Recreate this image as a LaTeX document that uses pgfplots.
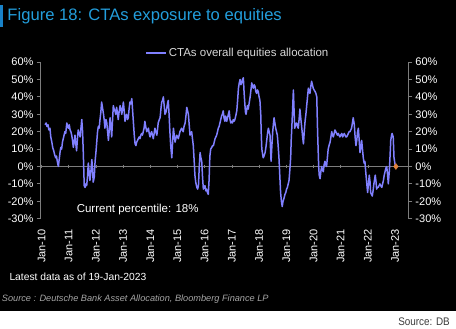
\documentclass[border=0pt]{standalone}
\usepackage{pgfplots}
\pgfplotsset{compat=1.18}
\usepackage{pgfplotstable}
\usepackage{fontspec}
\setmainfont{Liberation Sans}
\definecolor{titleblue}{RGB}{35,158,220}
\definecolor{barblue}{RGB}{25,130,200}
\definecolor{linec}{RGB}{128,128,255}
\definecolor{axgrey}{RGB}{125,125,125}
\definecolor{diam}{RGB}{225,130,60}
\definecolor{legtext}{RGB}{215,215,215}
\definecolor{srcgrey}{RGB}{165,165,165}
\definecolor{dbgrey}{RGB}{60,60,60}

\pgfplotstableread{
x y
2010.13 24
2010.17 25
2010.20 23
2010.24 24
2010.27 21
2010.31 22
2010.34 17
2010.38 14
2010.41 11
2010.45 9
2010.48 7
2010.52 5
2010.55 6
2010.58 3
2010.62 0
2010.65 4
2010.68 8
2010.71 11
2010.74 10
2010.77 14
2010.80 16
2010.83 18
2010.86 20
2010.89 19
2010.93 25
2010.96 23
2010.99 22
2011.02 24
2011.05 21
2011.08 20
2011.11 18
2011.14 15
2011.17 11
2011.20 14
2011.23 18
2011.26 13
2011.29 9
2011.32 16
2011.35 21
2011.38 19
2011.42 17
2011.45 22
2011.48 27
2011.51 20
2011.54 6
2011.57 -11
2011.60 -12
2011.63 -10
2011.66 -11
2011.69 -6
2011.72 2
2011.75 -3
2011.78 -8
2011.81 -4
2011.85 4
2011.88 -2
2011.90 -9
2011.94 -6
2011.97 3
2012.00 8
2012.03 14
2012.06 20
2012.09 23
2012.12 22
2012.15 27
2012.18 31
2012.21 37
2012.24 34
2012.28 30
2012.31 26
2012.33 22
2012.37 27
2012.40 25
2012.43 20
2012.46 15
2012.49 21
2012.52 28
2012.55 23
2012.58 17
2012.61 26
2012.64 35
2012.67 33
2012.70 32
2012.73 30
2012.76 34
2012.79 31
2012.82 27
2012.85 31
2012.89 35
2012.92 33
2012.95 30
2012.98 33
2013.01 37
2013.04 32
2013.07 26
2013.10 29
2013.13 30
2013.16 27
2013.19 28
2013.22 33
2013.25 37
2013.28 36
2013.32 39
2013.35 32
2013.38 25
2013.41 18
2013.44 13
2013.47 12
2013.50 14
2013.53 15
2013.56 16
2013.59 17
2013.62 16
2013.65 18
2013.68 19
2013.71 18
2013.74 20
2013.77 22
2013.80 26
2013.83 23
2013.87 20
2013.90 21
2013.93 22
2013.96 19
2013.99 17
2014.02 19
2014.05 20
2014.08 18
2014.11 16
2014.14 19
2014.17 22
2014.20 20
2014.24 18
2014.27 22
2014.29 25
2014.33 27
2014.36 28
2014.39 33
2014.42 37
2014.45 38
2014.48 40
2014.51 35
2014.54 30
2014.57 31
2014.60 33
2014.63 36
2014.66 38
2014.69 30
2014.72 20
2014.75 12
2014.79 5
2014.82 14
2014.85 22
2014.88 18
2014.91 14
2014.94 16
2014.97 18
2015.00 17
2015.03 16
2015.06 18
2015.09 20
2015.12 21
2015.15 22
2015.18 21
2015.21 20
2015.24 23
2015.28 25
2015.31 29
2015.34 34
2015.37 32
2015.40 30
2015.43 24
2015.46 18
2015.49 19
2015.52 20
2015.55 16
2015.58 12
2015.61 4
2015.64 -5
2015.67 -9
2015.71 -12
2015.74 -13
2015.77 -11
2015.80 0
2015.83 8
2015.86 5
2015.89 3
2015.92 -6
2015.95 -13
2015.98 -12
2016.01 -11
2016.04 -14
2016.07 -13
2016.10 -15
2016.13 -16
2016.16 -8
2016.19 6
2016.22 10
2016.26 11
2016.29 12
2016.32 12
2016.35 14
2016.38 16
2016.41 17
2016.44 18
2016.47 20
2016.50 22
2016.53 23
2016.56 25
2016.59 27
2016.62 29
2016.65 30
2016.68 32
2016.71 28
2016.74 26
2016.77 29
2016.81 26
2016.84 28
2016.87 30
2016.90 32
2016.93 27
2016.96 25
2016.99 26
2017.02 25
2017.05 27
2017.08 26
2017.11 27
2017.14 29
2017.18 32
2017.21 38
2017.24 45
2017.27 48
2017.30 50
2017.33 47
2017.36 48
2017.39 50
2017.42 51
2017.45 42
2017.48 35
2017.50 31
2017.52 30
2017.55 33
2017.57 35
2017.60 33
2017.63 36
2017.67 40
2017.70 44
2017.73 48
2017.76 46
2017.79 45
2017.82 47
2017.85 46
2017.88 43
2017.91 42
2017.94 44
2017.97 43
2018.00 40
2018.03 38
2018.06 30
2018.08 18
2018.10 10
2018.13 7
2018.15 5
2018.18 6
2018.22 8
2018.25 11
2018.28 15
2018.31 19
2018.34 22
2018.37 20
2018.40 18
2018.42 10
2018.44 3
2018.47 12
2018.50 20
2018.53 25
2018.55 28
2018.58 25
2018.61 22
2018.64 20
2018.67 18
2018.70 12
2018.73 5
2018.76 -5
2018.79 -15
2018.82 -20
2018.85 -23
2018.88 -20
2018.92 -18
2018.95 -16
2018.98 -15
2019.01 -13
2019.04 -12
2019.07 -10
2019.10 -8
2019.13 -2
2019.16 5
2019.18 15
2019.21 25
2019.24 36
2019.26 44
2019.29 30
2019.31 22
2019.34 24
2019.38 25
2019.41 23
2019.44 22
2019.47 27
2019.50 33
2019.53 28
2019.57 22
2019.60 17
2019.63 13
2019.66 20
2019.69 26
2019.72 30
2019.75 35
2019.78 40
2019.81 45
2019.84 43
2019.87 42
2019.90 46
2019.93 49
2019.96 47
2019.99 45
2020.02 44
2020.06 43
2020.09 42
2020.12 40
2020.15 20
2020.19 0
2020.21 -5
2020.24 -7
2020.27 -3
2020.30 0
2020.33 -2
2020.36 -3
2020.39 1
2020.42 3
2020.45 1
2020.48 0
2020.51 5
2020.54 10
2020.57 12
2020.61 14
2020.64 17
2020.67 20
2020.70 18
2020.73 17
2020.76 19
2020.79 21
2020.82 20
2020.85 19
2020.88 18
2020.91 19
2020.94 18
2020.97 17
2021.00 18
2021.04 19
2021.07 17
2021.10 18
2021.13 19
2021.16 18
2021.19 17
2021.22 17
2021.25 18
2021.28 19
2021.31 20
2021.34 20
2021.37 21
2021.40 22
2021.43 25
2021.46 28
2021.50 24
2021.53 17
2021.56 12
2021.59 15
2021.62 20
2021.65 22
2021.68 15
2021.71 8
2021.74 11
2021.77 15
2021.80 10
2021.83 5
2021.86 2
2021.89 3
2021.92 -3
2021.96 -10
2021.99 -15
2022.02 -10
2022.05 -5
2022.08 -9
2022.10 -15
2022.13 -16
2022.16 -17
2022.19 -14
2022.22 -10
2022.25 -7
2022.27 -5
2022.30 -9
2022.32 -13
2022.35 -12
2022.38 -12
2022.41 -11
2022.44 -10
2022.47 -11
2022.51 -12
2022.54 -10
2022.57 -8
2022.60 -5
2022.63 -3
2022.66 -1
2022.69 0
2022.72 -4
2022.75 -10
2022.77 -6
2022.79 -2
2022.82 8
2022.84 15
2022.87 18
2022.89 19
2022.91 18
2022.93 17
2022.96 5
2023.00 1
2023.03 0
}\cta

\begin{document}
\begin{tikzpicture}
\fill[white] (0pt,0pt) rectangle (456pt,329pt);
\fill[black] (0pt,18pt) rectangle (456pt,329pt);
\fill[barblue] (0pt,302pt) rectangle (3pt,324pt);
\node[anchor=west, inner sep=0pt, text=titleblue, font=\fontsize{16.6}{19}\selectfont] at (7.3pt,312.3pt) {Figure 18: CTAs exposure to equities};

\begin{axis}[
  at={(40.7pt,110.3pt)}, anchor=south west,
  scale only axis, width=367.6pt, height=156.6pt,
  xmin=2009.97, xmax=2023.485, ymin=-30, ymax=60,
  axis y line*=left, axis x line*=bottom,
  x axis line style={draw=none},
  y axis line style={draw=axgrey, line width=0.8pt},
  tick align=outside, major tick length=4pt,
  xtick={2010,2011,2012,2013,2014,2015,2016,2017,2018,2019,2020,2021,2022,2023},
  xticklabels={Jan-10,Jan-11,Jan-12,Jan-13,Jan-14,Jan-15,Jan-16,Jan-17,Jan-18,Jan-19,Jan-20,Jan-21,Jan-22,Jan-23},
  xtick style={draw=none},
  xticklabel style={yshift=-6.3pt, rotate=90, anchor=east, inner sep=0pt, text=white, font=\fontsize{11}{13}\selectfont},
  ytick={-30,-20,-10,0,10,20,30,40,50,60},
  yticklabels={-30\%,-20\%,-10\%,0\%,10\%,20\%,30\%,40\%,50\%,60\%},
  ytick style={draw=axgrey, line width=0.8pt},
  yticklabel style={inner sep=0pt, xshift=-3pt, text=white, font=\fontsize{11}{13}\selectfont},
  legend style={at={(0.284,1)}, anchor=west, yshift=9pt, draw=none, fill=none, inner sep=0pt,
     font=\fontsize{11.5}{13}\selectfont, text=legtext},
  legend image code/.code={\draw[#1, line width=1.5pt] (0pt,0pt) -- (20pt,0pt);},
  clip=false,
]
\addplot[forget plot, axgrey, line width=0.8pt] coordinates {(2009.97,0) (2023.485,0)};
\addplot[forget plot, only marks, mark=|, mark size=1.8pt, axgrey, mark options={line width=0.8pt}]
  coordinates {(2010,0) (2011,0) (2012,0) (2013,0) (2014,0) (2015,0) (2016,0) (2017,0) (2018,0) (2019,0) (2020,0) (2021,0) (2022,0) (2023,0)};
\addplot[linec, line width=1.5pt, line join=round] table[x=x,y=y] {\cta};
\addlegendentry{CTAs overall equities allocation}
\addplot[forget plot, only marks, mark=diamond*, mark size=3pt, color=diam] coordinates {(2023.03,0)};
\end{axis}

\begin{axis}[
  at={(40.7pt,110.3pt)}, anchor=south west,
  scale only axis, width=367.6pt, height=156.6pt,
  xmin=2009.97, xmax=2023.485, ymin=-30, ymax=60,
  axis y line*=right, axis x line=none,
  y axis line style={draw=axgrey, line width=0.8pt},
  tick align=outside, major tick length=4pt,
  ytick={-30,-20,-10,0,10,20,30,40,50,60},
  yticklabels={-30\%,-20\%,-10\%,0\%,10\%,20\%,30\%,40\%,50\%,60\%},
  ytick style={draw=axgrey, line width=0.8pt},
  yticklabel style={inner sep=0pt, xshift=3pt, text=white, font=\fontsize{11}{13}\selectfont},
]
\addplot[draw=none, forget plot] coordinates {(2010,0) (2023,0)};
\end{axis}

\node[anchor=center, inner sep=0pt, text=white, font=\fontsize{11.5}{13}\selectfont] at (137.7pt,119pt) {Current percentile: 18\%};
\node[anchor=west, inner sep=0pt, text=white, font=\fontsize{10.3}{12}\selectfont] at (9.3pt,51.7pt) {Latest data as of 19-Jan-2023};
\node[anchor=west, inner sep=0pt, text=srcgrey, font=\fontsize{9.2}{11}\selectfont\itshape] at (1.7pt,30pt) {Source : Deutsche Bank Asset Allocation, Bloomberg Finance LP};
\node[anchor=east, inner sep=0pt, text=dbgrey, font=\fontsize{11}{13}\selectfont] at (450pt,7.3pt) {\scalebox{0.9}[1]{Source: DB}};
\end{tikzpicture}
\end{document}
